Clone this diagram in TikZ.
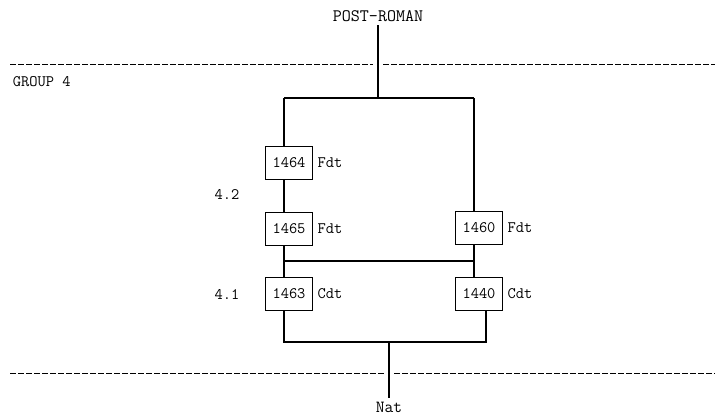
\documentclass[tikz,border=0pt]{standalone}
\usepackage{tikz}
\usetikzlibrary{positioning}

\begin{document}
\begin{tikzpicture}[x=1pt,y=-1pt,line width=1.1pt,font=\ttfamily\fontsize{16}{18}\selectfont]
\tikzset{unit/.style={draw,minimum width=47pt,minimum height=33pt,inner sep=0pt},
tag/.style={inner sep=1pt},
rule/.style={dash pattern=on 6pt off 2pt,line width=0.9pt}}
\useasboundingbox (0,0) rectangle (715,417);
\node[font=\ttfamily\fontsize{17.5}{19}\selectfont] (post) at (378,16) {POST-ROMAN};
\node[font=\ttfamily\fontsize{17}{19}\selectfont] (nat) at (389,407) {Nat};
\node[anchor=west] (grp) at (9,82) {GROUP 4};
\node (p42) at (227,195) {4.2};
\node (p41) at (227,294) {4.1};
\node[unit] (u1464) at (289,163) {1464};
\node[unit] (u1465) at (289,229) {1465};
\node[unit] (u1463) at (289,294) {1463};
\node[unit] (u1460) at (479,228) {1460};
\node[unit] (u1440) at (479,294) {1440};
\node[tag,right=3pt of u1464] (t1464) {Fdt};
\node[tag,right=3pt of u1465] (t1465) {Fdt};
\node[tag,right=3pt of u1463] (t1463) {Cdt};
\node[tag,right=3pt of u1460] (t1460) {Fdt};
\node[tag,right=3pt of u1440] (t1440) {Cdt};
% period boundaries
\draw[rule] (10,64) -- (373,64);
\draw[rule] (383,64) -- (715,64);
\draw[rule] (10,373) -- (384,373);
\draw[rule] (394,373) -- (715,373);
% sequence
\coordinate (tj) at (378,98);
\coordinate (tl) at (284,98);
\coordinate (tr) at (474,98);
\coordinate (ml) at (284,261);
\coordinate (bl) at (284,342);
\coordinate (br) at (486,342);
\coordinate (bj) at (389,342);
\draw (post) -- (tj);
\draw (tl) -- (tr);
\draw (tl) -- (tl |- u1464.north);
\draw (tr) -- (tr |- u1460.north);
\draw (u1464.south -| tl) -- (u1465.north -| tl);
\draw (u1465.south -| tl) -- (u1463.north -| tl);
\draw (u1460.south -| tr) -- (u1440.north -| tr);
\draw (ml) -- (ml -| tr);
\draw (u1463.south -| bl) -- (bl) -- (br) -- (br |- u1440.south);
\draw (bj) -- (nat);
\end{tikzpicture}
\end{document}
